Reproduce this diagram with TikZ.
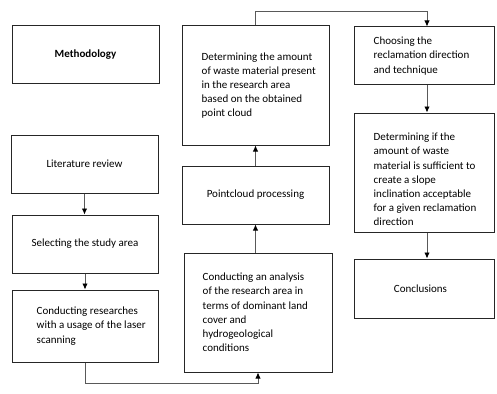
\documentclass[tikz,border=0pt]{standalone}
\usepackage{fontspec}
\setmainfont{Carlito}
\usetikzlibrary{positioning,arrows.meta}
\begin{document}
\begin{tikzpicture}[x=1pt, y=-1pt,
        >={Latex[length=6pt,width=5.5pt,color=black]},   % arrow tips
        box/.style={draw=black!85, line width=1pt, minimum width=#1, inner sep=0pt},
        txt/.style={align=left, inner sep=0pt},
        link/.style={->, draw=black!65, line width=0.9pt},
        font=\fontsize{11}{14.2}\selectfont]
        \useasboundingbox (0,0) rectangle (497,393);
        % left column
        \node[box=147pt, minimum height=58pt] (method) at (85.5,55) {\textbf{Methodology}};
        \node[box=147pt, minimum height=58pt] (litrev) at (84.5,164) {Literature review};
        \node[box=146pt, minimum height=58pt] (study) at (85,244) {Selecting the study area};
        \node[box=146pt, minimum height=72pt] (scan) at (85,326) {};
        \node[txt, right=25pt of scan.west] (scantxt) {Conducting researches\\with a usage of the laser\\scanning};
        % middle column
        \node[box=147pt, minimum height=119pt] (amount) at (255.5,85.5) {};
        \node[txt, right=20pt of amount.west] (amounttxt) {Determining the amount\\of waste material present\\in the research area\\based on the obtained\\point cloud};
        \node[box=147pt, minimum height=58pt] (cloud) at (255.5,195) {Pointcloud processing};
        \node[box=148pt, minimum height=119pt] (analysis) at (258,312.5) {};
        \node[txt, right=19pt of analysis.west] (analysistxt) {Conducting an analysis\\of the research area in\\terms of dominant land\\cover and\\hydrogeological\\conditions};
        % right column
        \node[box=140pt, minimum height=58pt] (choose) at (424,56) {};
        \node[txt, right=20pt of choose.west] (choosetxt) {Choosing the\\reclamation direction\\and technique};
        \node[box=140pt, minimum height=119pt] (check) at (424,172.5) {};
        \node[txt, right=20pt of check.west, yshift=-7pt] (checktxt) {Determining if the\\amount of waste\\material is sufficient to\\create a slope\\inclination acceptable\\for a given reclamation\\direction};
        \node[box=140pt, minimum height=59pt] (concl) at (424,288.5) {\hspace*{-7pt}Conclusions};
        % connectors
        \draw[link] (litrev.south) -- (litrev.south |- study.north);
        \draw[link] (study.south) -- (study.south |- scan.north);
        \draw[link] (scan.south) -- ++(0,21) -| (analysis.south);
        \draw[link] (cloud.south |- analysis.north) -- (cloud.south);
        \draw[link] (cloud.north) -- (amount.south);
        \draw[link] (amount.north) -- ++(0,-14) -| ([xshift=3pt]choose.north);
        \draw[link] ([xshift=3pt]choose.south) -- ([xshift=3pt]check.north);
        \draw[link] ([xshift=3pt]check.south) -- ([xshift=3pt]concl.north);
\end{tikzpicture}
\end{document}
